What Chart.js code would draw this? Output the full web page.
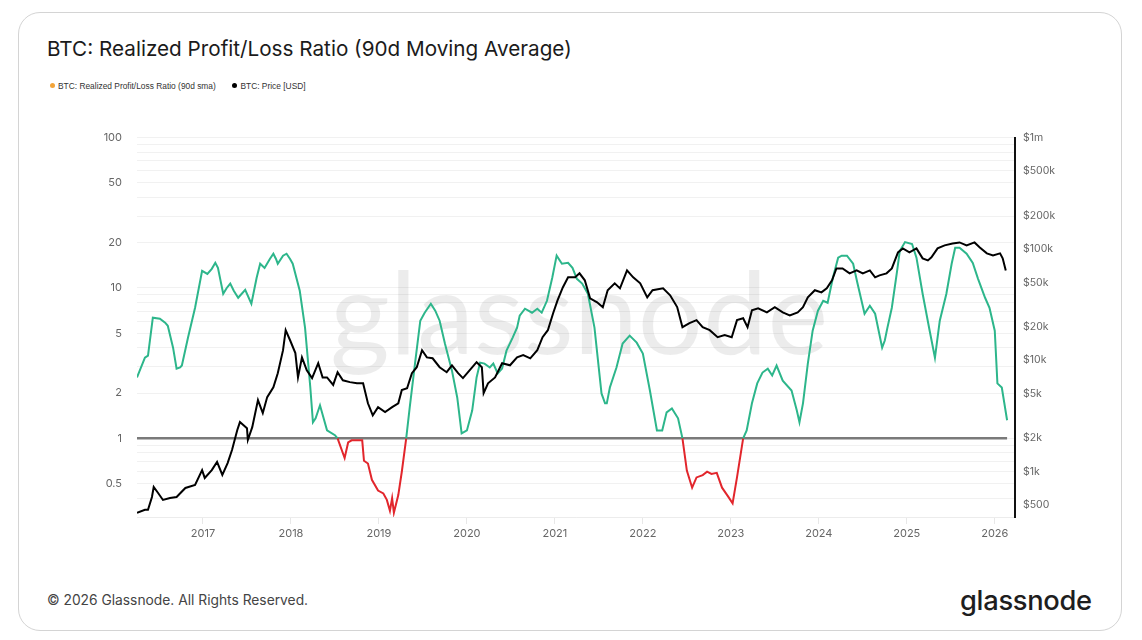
<!DOCTYPE html>
<html>
<head>
<meta charset="utf-8">
<script src="https://cdn.jsdelivr.net/npm/chart.js@4.4.1/dist/chart.umd.min.js"></script>
<style>
html,body{margin:0;padding:0;background:#fff;}
body{width:1142px;height:640px;position:relative;overflow:hidden;font-family:Inter,"Noto Sans",sans-serif;}
.card{position:absolute;left:18px;top:12px;width:1104px;height:619px;border:1px solid #d4d4d4;border-radius:22px;box-sizing:border-box;}
.title{position:absolute;left:47px;top:36px;font-size:20.7px;color:#1b1b1b;font-weight:400;white-space:nowrap;}
.legend{position:absolute;left:50px;top:80px;font-family:"Liberation Sans",Arial,sans-serif;font-size:8.4px;color:#333;white-space:nowrap;}
.legend span{display:inline-block;vertical-align:middle;}
.dot{width:5px;height:5px;border-radius:50%;margin-right:3px;}
.footer{position:absolute;left:47px;top:592px;font-size:13.8px;color:#444;}
.logo{position:absolute;left:960px;top:584px;font-family:Inter,sans-serif;font-weight:500;font-size:27.3px;color:#1e1e1e;letter-spacing:-0.3px;}
#wrap{position:absolute;left:60px;top:116px;width:1040px;height:444px;}
</style>
</head>
<body>
<div class="card"></div>
<div class="title">BTC: Realized Profit/Loss Ratio (90d Moving Average)</div>
<div class="legend">
  <span class="dot" style="background:#f2a43a"></span><span>BTC: Realized Profit/Loss Ratio (90d sma)</span>
  <span style="width:12px"></span>
  <span class="dot" style="background:#000"></span><span>BTC: Price [USD]</span>
</div>
<div id="wrap"><canvas id="myChart"></canvas></div>
<div class="footer">© 2026 Glassnode. All Rights Reserved.</div>
<div class="logo">glassnode</div>
<script>
// realized profit/loss ratio, 90d sma (decimal year, value)
const ratioYears = [2016.25,2016.34,2016.375,2016.43,2016.51,2016.57,2016.60,2016.66,2016.70,2016.74,2016.76,2016.83,2016.91,2016.99,
  2017.05,2017.10,2017.14,2017.17,2017.23,2017.27,2017.31,2017.35,2017.40,2017.48,2017.55,2017.61,2017.65,2017.70,2017.76,2017.80,2017.83,2017.85,2017.91,2017.95,2017.99,
  2018.02,2018.10,2018.16,2018.22,2018.25,2018.28,2018.33,2018.41,2018.50,2018.53,2018.61,2018.65,2018.69,2018.75,2018.81,2018.83,2018.875,2018.92,2018.99,
  2019.05,2019.09,2019.125,2019.15,2019.17,2019.22,2019.26,2019.31,2019.35,2019.41,2019.47,2019.52,2019.59,2019.64,2019.69,2019.75,2019.83,2019.89,2019.94,
  2020.00,2020.06,2020.11,2020.15,2020.20,2020.26,2020.30,2020.35,2020.40,2020.45,2020.52,2020.57,2020.60,2020.66,2020.74,2020.80,2020.85,2020.91,2020.97,
  2021.02,2021.08,2021.15,2021.20,2021.25,2021.31,2021.375,2021.45,2021.53,2021.57,2021.59,2021.625,2021.70,2021.77,2021.85,2021.93,
  2022.00,2022.08,2022.16,2022.22,2022.27,2022.33,2022.40,2022.45,2022.50,2022.56,2022.61,2022.68,2022.73,2022.78,2022.84,2022.90,2022.97,
  2023.02,2023.07,2023.14,2023.18,2023.24,2023.30,2023.36,2023.42,2023.47,2023.52,2023.59,2023.69,2023.75,2023.78,2023.82,2023.875,2023.93,2023.99,
  2024.05,2024.10,2024.16,2024.22,2024.26,2024.32,2024.39,2024.44,2024.52,2024.58,2024.64,2024.72,2024.75,2024.78,2024.83,2024.89,2024.92,2024.98,
  2025.06,2025.11,2025.18,2025.26,2025.32,2025.375,2025.45,2025.51,2025.55,2025.60,2025.68,2025.75,2025.81,2025.89,2025.94,
  2026.00,2026.03,2026.08,2026.14];
const ratioValues = [2.54,3.44,3.55,6.34,6.25,5.88,5.61,4.01,2.91,2.96,3.05,4.68,7.39,13.0,
  12.4,13.4,14.7,13.6,9.16,10.0,10.7,9.58,8.61,9.73,7.86,11.7,14.5,13.6,15.6,16.9,15.6,14.5,16.4,16.9,15.6,
  14.5,9.58,5.45,2.18,1.28,1.36,1.66,1.13,1.05,1.0,0.74,0.94,0.97,0.97,0.97,0.71,0.68,0.53,0.45,
  0.43,0.39,0.33,0.40,0.32,0.42,0.60,1.0,1.61,3.14,6.06,6.85,7.86,7.06,6.06,4.27,2.82,1.87,1.08,
  1.13,1.53,2.54,3.19,3.14,2.96,3.14,2.70,2.91,3.83,4.68,5.45,6.54,7.28,6.85,7.28,6.85,8.22,11.7,
  16.4,14.5,14.7,13.6,11.5,10.7,9.16,5.45,1.99,1.71,1.71,2.18,2.96,4.27,4.82,4.33,
  3.66,2.08,1.13,1.13,1.49,1.58,1.36,1.0,0.61,0.47,0.55,0.57,0.60,0.58,0.59,0.47,0.41,
  0.37,0.55,1.0,1.13,1.71,2.32,2.74,2.91,2.62,3.05,2.42,2.08,1.53,1.28,1.71,3.14,5.20,7.06,
  8.22,7.98,11.7,15.9,16.4,16.4,14.5,10.7,6.74,7.62,6.74,4.01,4.47,5.45,7.39,13.0,17.6,20.2,
  19.6,15.9,9.16,5.20,3.44,6.06,9.16,14.5,18.5,18.5,16.9,14.7,11.5,8.61,7.39,
  5.20,2.32,2.18,1.32];

// BTC price in USD (decimal year, value)
const priceYears = [2016.25,2016.34,2016.375,2016.42,2016.44,2016.49,2016.545,2016.625,2016.70,2016.80,2016.91,2016.99,
  2017.02,2017.10,2017.16,2017.22,2017.28,2017.33,2017.39,2017.42,2017.50,2017.51,2017.56,2017.625,2017.68,2017.73,2017.80,2017.85,2017.91,2017.94,2017.99,
  2018.05,2018.08,2018.125,2018.18,2018.24,2018.31,2018.36,2018.41,2018.48,2018.53,2018.59,2018.67,2018.75,2018.82,2018.875,2018.93,2018.99,
  2019.07,2019.15,2019.22,2019.26,2019.32,2019.375,2019.43,2019.49,2019.545,2019.61,2019.69,2019.77,2019.83,2019.90,2019.955,
  2020.03,2020.11,2020.17,2020.19,2020.24,2020.32,2020.40,2020.49,2020.57,2020.64,2020.72,2020.80,2020.86,2020.92,2020.98,
  2021.03,2021.09,2021.15,2021.23,2021.28,2021.34,2021.40,2021.48,2021.545,2021.60,2021.68,2021.74,2021.82,2021.89,2021.97,
  2022.05,2022.11,2022.23,2022.31,2022.39,2022.45,2022.53,2022.61,2022.68,2022.76,2022.85,2022.93,
  2023.01,2023.07,2023.14,2023.19,2023.24,2023.31,2023.41,2023.50,2023.59,2023.67,2023.76,2023.82,2023.875,2023.955,
  2024.03,2024.09,2024.15,2024.20,2024.27,2024.35,2024.43,2024.50,2024.58,2024.64,2024.69,2024.77,2024.83,2024.90,2024.955,
  2025.03,2025.11,2025.18,2025.24,2025.28,2025.35,2025.43,2025.52,2025.60,2025.68,2025.77,2025.83,2025.91,2025.98,
  2026.06,2026.09,2026.125];
const priceValues = [425,452,452,590,726,641,555,578,590,711,757,1030,
  875,1030,1220,930,1190,1560,2360,2780,2450,1920,2500,4380,3350,4660,5700,7640,12300,18600,15100,
  11600,7000,10600,8100,6900,9400,7000,7000,6000,7800,6600,6350,6200,6200,4100,3200,3790,
  3420,3790,4100,5400,5600,7640,8650,12300,10600,10400,8650,7800,9000,7640,6900,
  8100,9600,8650,5060,6200,7000,9400,9000,10600,11100,10400,12300,16100,18600,26400,
  34500,45000,55500,55500,60300,52200,36000,33100,29900,42500,49100,44200,64100,55500,49100,
  36700,42500,44200,38300,30000,19800,21500,22900,19800,18600,16100,16800,
  16100,22900,23800,19800,28100,29300,26900,29900,26900,25300,26900,29900,36700,42500,
  40700,44200,52200,66800,66800,60300,64100,60300,64100,55500,57800,60300,66800,93100,101000,
  93100,101000,82200,78800,83900,101000,107500,112000,114300,107500,114300,103000,91200,87500,
  91200,82200,64100];

const xTickYears = [2017,2018,2019,2020,2021,2022,2023,2024,2025,2026];
const ratioTickLabels = [0.5,1,2,5,10,20,50,100];
const priceTicks = [500,1000,2000,5000,10000,20000,50000,100000,200000,500000,1000000];
const priceTickLabels = ['$500','$1k','$2k','$5k','$10k','$20k','$50k','$100k','$200k','$500k','$1m'];
const breakEven = 1;

const GREEN = '#2db68b';
const RED = '#e2262c';

function toPoints(xs, ys){
  return xs.map((x, i) => ({x: x, y: ys[i]}));
}

// faint log grid: 1..9 steps of each decade
function ratioGridTicks(){
  const out = [];
  [0.1, 1, 10].forEach(d => {
    for (let m = 1; m <= 9; m++){
      const v = Number((m * d).toPrecision(3));
      if (v >= 0.3 && v <= 100) out.push({value: v});
    }
  });
  out.push({value: 100});
  return out;
}

const watermark = {
  id: 'watermark',
  beforeDatasetsDraw(chart){
    const c = chart.ctx;
    c.save();
    c.font = '115px Lato, Inter, sans-serif';
    c.fillStyle = 'rgba(0,0,0,0.075)';
    c.textBaseline = 'alphabetic';
    c.fillText('glassnode', 270, 238);
    c.restore();
  }
};

Chart.defaults.font.family = 'Inter, "Noto Sans", sans-serif';

const ctx = document.getElementById('myChart').getContext('2d');
new Chart(ctx, {
  type: 'line',
  data: {
    datasets: [
      {
        label: 'BTC: Price [USD]',
        data: toPoints(priceYears, priceValues),
        yAxisID: 'y1',
        borderColor: '#000',
        borderWidth: 2,
        pointRadius: 0,
        tension: 0,
        order: 0
      },
      {
        label: 'BTC: Realized Profit/Loss Ratio (90d sma)',
        data: toPoints(ratioYears, ratioValues),
        yAxisID: 'y',
        borderColor: GREEN,
        borderWidth: 2,
        pointRadius: 0,
        tension: 0,
        order: 1,
        segment: {
          borderColor: c => {
            const a = c.p0.parsed.y, b = c.p1.parsed.y;
            return (Math.max(a, b) <= breakEven && Math.min(a, b) < breakEven) ? RED : GREEN;
          }
        }
      },
      {
        label: 'break-even',
        data: [{x: ratioYears[0], y: breakEven}, {x: ratioYears[ratioYears.length - 1], y: breakEven}],
        yAxisID: 'y',
        borderColor: '#7a7a7a',
        borderWidth: 2.5,
        pointRadius: 0,
        order: 2
      }
    ]
  },
  options: {
    responsive: true,
    maintainAspectRatio: false,
    animation: false,
    layout: {padding: {top: 0, left: 0, right: 0, bottom: 0}},
    plugins: {legend: {display: false}, tooltip: {enabled: false}},
    scales: {
      x: {
        type: 'linear',
        min: 2016.25,
        max: 2026.23,
        afterBuildTicks: axis => { axis.ticks = xTickYears.map(v => ({value: v})); },
        afterFit: axis => { axis.height = 43; },
        ticks: {
          callback: v => String(v),
          color: '#666',
          font: {size: 11},
          padding: 3,
          maxRotation: 0,
          autoSkip: false
        },
        grid: {drawOnChartArea: false, tickLength: 7, color: '#e8e8e8'},
        border: {color: '#ececec'}
      },
      y: {
        type: 'logarithmic',
        position: 'left',
        min: 0.3,
        max: 100,
        afterBuildTicks: axis => { axis.ticks = ratioGridTicks(); },
        afterFit: axis => { axis.width = 77; },
        ticks: {
          callback: v => ratioTickLabels.includes(v) ? String(v) : '',
          color: '#666',
          font: {size: 11},
          padding: 15,
          autoSkip: false
        },
        grid: {color: '#f1f1f1', drawTicks: false},
        border: {display: false}
      },
      y1: {
        type: 'logarithmic',
        position: 'right',
        min: 390,
        max: 1000000,
        afterBuildTicks: axis => { axis.ticks = priceTicks.map(v => ({value: v})); },
        afterFit: axis => { axis.width = 85; },
        ticks: {
          callback: (v, i) => priceTickLabels[i],
          color: '#666',
          font: {size: 10.5},
          padding: 8,
          autoSkip: false
        },
        grid: {display: false, drawTicks: false},
        border: {color: '#111', width: 2}
      }
    }
  },
  plugins: [watermark]
});
</script>
</body>
</html>
